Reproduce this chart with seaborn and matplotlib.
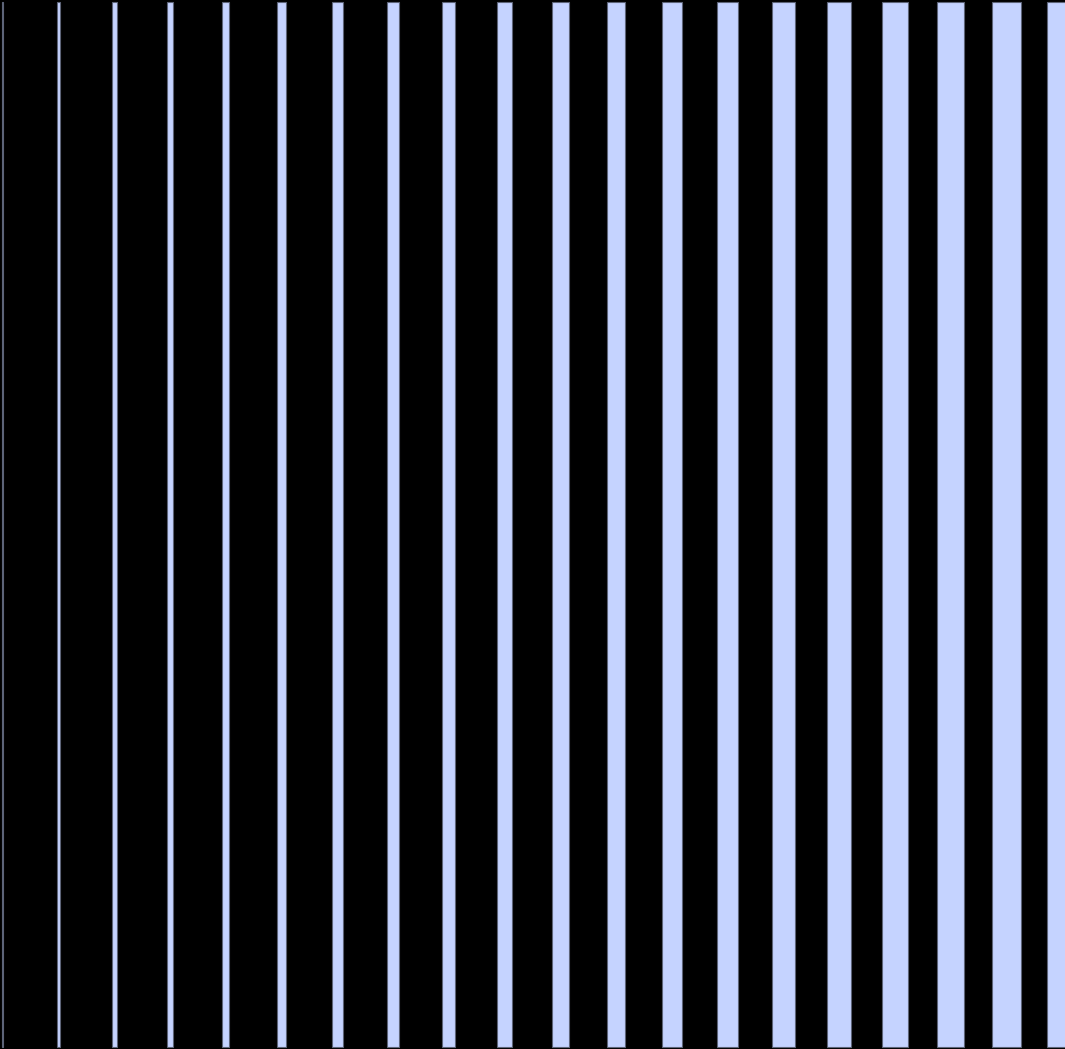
import numpy as np
import pandas as pd
import matplotlib
matplotlib.use("Agg")
import matplotlib.pyplot as plt
import seaborn as sns

sns.set_theme(style="dark")

# one bar per slot, all the same height, widths growing left to right
slots = list(range(20))
heights = [1.0] * 20
widths = [0.027, 0.055, 0.082, 0.109, 0.136, 0.164, 0.191, 0.218, 0.245, 0.273,
          0.300, 0.327, 0.355, 0.382, 0.409, 0.436, 0.464, 0.491, 0.518, 0.545]

df = pd.DataFrame({"slot": slots, "height": heights, "width": widths})

fig = plt.figure(figsize=(10.65, 10.49), dpi=100, facecolor="black")
ax = fig.add_axes([0, 0, 1, 1])
ax.set_facecolor("black")

sns.barplot(data=df, x="slot", y="height", color="#c5d3ff", saturation=1,
            edgecolor="#5d6478", linewidth=0.8, native_scale=True, ax=ax)

# left-align each bar on its slot and give it its own width
for patch, s, w in zip(ax.patches, df["slot"], df["width"]):
    patch.set_x(s)
    patch.set_width(w)

ax.set_xlim(-0.0364, 19.327)
ax.set_ylim(-0.0015, 1.0015)
ax.set_axis_off()

fig.savefig("out.png", dpi=100, facecolor="black")
